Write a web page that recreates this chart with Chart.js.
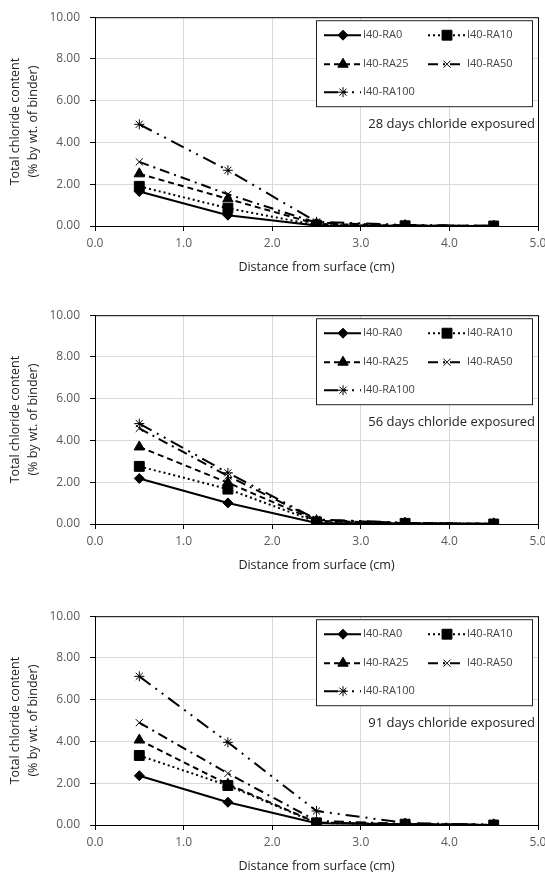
<!DOCTYPE html>
<html>
<head>
<meta charset="utf-8">
<script src="https://cdn.jsdelivr.net/npm/chart.js@4.4.1/dist/chart.umd.min.js"></script>
<style>
  html, body { margin: 0; padding: 0; background: #fff; }
  body { width: 545px; height: 878px; overflow: hidden; position: relative; }
  .panel { position: absolute; left: 0; width: 560px; height: 300px; }
</style>
</head>
<body>
<div class="panel" style="top:0px"><canvas id="chart28" width="560" height="300"></canvas></div>
<div class="panel" style="top:298px"><canvas id="chart56" width="560" height="300"></canvas></div>
<div class="panel" style="top:599px"><canvas id="chart91" width="560" height="300"></canvas></div>
<script>
// === Data ===
const distances = [0.5, 1.5, 2.5, 3.5, 4.5];
const seriesNames = ['I40-RA0', 'I40-RA10', 'I40-RA25', 'I40-RA50', 'I40-RA100'];
const xTicks = [0, 1, 2, 3, 4, 5];
const yTicks = [0, 2, 4, 6, 8, 10];
const exposureDays = [28, 56, 91];

// rows follow seriesNames
const values28 = [
    [1.65, 0.52, 0.02, 0.01, 0.00],
    [1.90, 0.85, 0.04, 0.01, 0.00],
    [2.50, 1.30, 0.10, 0.02, 0.00],
    [3.07, 1.52, 0.16, 0.03, 0.01],
    [4.87, 2.67, 0.20, 0.05, 0.01]
];
const values56 = [
    [2.18, 1.01, 0.05, 0.02, 0.00],
    [2.76, 1.67, 0.10, 0.03, 0.00],
    [3.69, 1.98, 0.15, 0.04, 0.01],
    [4.58, 2.30, 0.20, 0.05, 0.01],
    [4.81, 2.45, 0.22, 0.06, 0.01]
];
const values91 = [
    [2.36, 1.09, 0.08, 0.03, 0.00],
    [3.33, 1.89, 0.10, 0.04, 0.00],
    [4.07, 1.95, 0.12, 0.04, 0.01],
    [4.90, 2.47, 0.20, 0.05, 0.01],
    [7.12, 3.96, 0.67, 0.10, 0.01]
];

// === Styles ===
const inkColor = '#000000';
const tickColor = '#595959';
const gridColor = '#d9d9d9';
const fontFamily = '"Open Sans", "Noto Sans", sans-serif';

const markerStyles = ['rectRot', 'rect', 'triangle', 'crossRot', 'star'];
const markerRadius = [5, 7, 6, 5, 5];
const dashStyles = [[], [2, 3], [6, 4], [10, 5, 2, 5], [14, 6, 2, 6, 2, 6]];

// legend box + annotation + axis titles, drawn inside the canvas
const chartDecor = {
    id: 'chartDecor',
    beforeDatasetsDraw(chart) {
        const { ctx, chartArea: a } = chart;
        ctx.save();
        ctx.strokeStyle = inkColor;
        ctx.lineWidth = 1;
        ctx.strokeRect(a.left + 0.5, a.top + 0.5, a.right - a.left, a.bottom - a.top);
        ctx.restore();
    },
    afterDraw(chart, args, opts) {
        const { ctx, chartArea: a } = chart;
        ctx.save();

        // axis titles
        ctx.fillStyle = '#222';
        ctx.font = '12.5px ' + fontFamily;
        ctx.textAlign = 'center';
        ctx.textBaseline = 'middle';
        ctx.fillText('Distance from surface (cm)', (a.left + a.right) / 2, 267);
        const midY = (a.top + a.bottom) / 2;
        ctx.translate(15, midY);
        ctx.rotate(-Math.PI / 2);
        ctx.fillText('Total chloride content', 0, 0);
        ctx.fillText('(% by wt. of binder)', 0, 18);
        ctx.setTransform(1, 0, 0, 1, 0, 0);

        // legend box
        const bx = a.right - 222, by = a.top + 3, bw = 216, bh = 86;
        ctx.fillStyle = '#fff';
        ctx.fillRect(bx, by, bw, bh);
        ctx.strokeStyle = '#222';
        ctx.lineWidth = 1;
        ctx.strokeRect(bx + 0.5, by + 0.5, bw, bh);

        const slots = [[8, 15], [112, 15], [8, 44], [112, 44], [8, 72]];
        chart.data.datasets.forEach((ds, i) => {
            const [ox, oy] = slots[i];
            const x0 = bx + ox, y = by + oy;
            ctx.save();
            ctx.strokeStyle = inkColor;
            ctx.lineWidth = 2;
            ctx.setLineDash(ds.borderDash);
            ctx.beginPath();
            ctx.moveTo(x0, y);
            ctx.lineTo(x0 + 37, y);
            ctx.stroke();
            ctx.restore();
            ctx.save();
            ctx.fillStyle = inkColor;
            ctx.strokeStyle = inkColor;
            ctx.lineWidth = 1;
            Chart.helpers.drawPoint(ctx, {
                pointStyle: ds.pointStyle,
                radius: ds.pointRadius,
                borderWidth: 1,
                rotation: 0
            }, x0 + 19, y);
            ctx.restore();
            ctx.fillStyle = '#444';
            ctx.font = '11px ' + fontFamily;
            ctx.textAlign = 'left';
            ctx.textBaseline = 'middle';
            ctx.fillText(ds.label, x0 + 39, y);
        });

        // exposure note
        ctx.fillStyle = '#222';
        ctx.font = '13px ' + fontFamily;
        ctx.textAlign = 'right';
        ctx.textBaseline = 'middle';
        ctx.fillText(opts.days + ' days chloride exposured', a.right - 3, a.top + 107);
        ctx.restore();
    }
};

function buildChart(canvasId, days, rows) {
    const datasets = rows.map((vals, i) => ({
        label: seriesNames[i],
        data: distances.map((d, j) => ({ x: d, y: vals[j] })),
        borderColor: inkColor,
        backgroundColor: inkColor,
        borderWidth: 2,
        borderDash: dashStyles[i],
        pointStyle: markerStyles[i],
        pointRadius: markerRadius[i],
        pointBorderWidth: 1,
        pointBorderColor: inkColor,
        pointBackgroundColor: inkColor,
        tension: 0,
        fill: false
    }));

    new Chart(document.getElementById(canvasId), {
        type: 'line',
        data: { datasets },
        options: {
            responsive: false,
            animation: false,
            devicePixelRatio: 1,
            layout: { padding: { top: 14, right: 22, left: 0, bottom: 0 } },
            plugins: {
                legend: { display: false },
                tooltip: { enabled: false },
                chartDecor: { days }
            },
            scales: {
                x: {
                    type: 'linear',
                    min: 0, max: 5,
                    afterBuildTicks: s => { s.ticks = xTicks.map(v => ({ value: v })); },
                    afterFit: s => { s.height = 74; },
                    ticks: {
                        color: tickColor,
                        font: { family: fontFamily, size: 12 },
                        padding: 5,
                        maxRotation: 0,
                        callback: v => v.toFixed(1)
                    },
                    grid: { color: gridColor, tickColor: inkColor, tickLength: 5 },
                    border: { color: inkColor }
                },
                y: {
                    min: 0, max: 10,
                    afterBuildTicks: s => { s.ticks = yTicks.map(v => ({ value: v })); },
                    afterFit: s => { s.width = 95; },
                    ticks: {
                        color: tickColor,
                        font: { family: fontFamily, size: 12 },
                        padding: 10,
                        callback: v => v.toFixed(2)
                    },
                    grid: { color: gridColor, tickColor: inkColor, tickLength: 5 },
                    border: { color: inkColor }
                }
            }
        },
        plugins: [chartDecor]
    });
}

buildChart('chart28', exposureDays[0], values28);
buildChart('chart56', exposureDays[1], values56);
buildChart('chart91', exposureDays[2], values91);
</script>
</body>
</html>
